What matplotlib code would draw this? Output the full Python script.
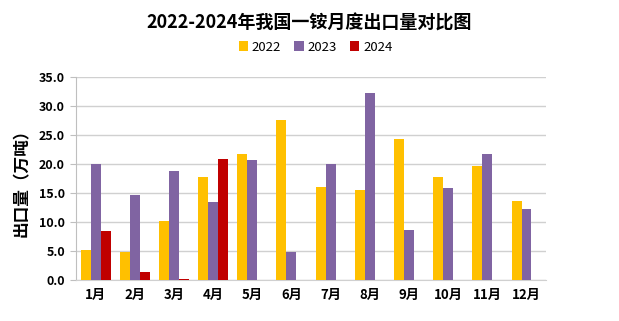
import matplotlib.pyplot as plt
import numpy as np

plt.rcParams['font.family'] = ['Noto Sans CJK SC', 'DejaVu Sans']

months = ['1月', '2月', '3月', '4月', '5月', '6月', '7月', '8月', '9月', '10月', '11月', '12月']
y2022 = [5.2, 4.8, 10.2, 17.8, 21.7, 27.6, 16.0, 15.5, 24.3, 17.8, 19.7, 13.6]
y2023 = [20.0, 14.7, 18.8, 13.4, 20.7, 4.8, 20.0, 32.2, 8.6, 15.9, 21.7, 12.2]
y2024 = [8.5, 1.4, 0.2, 20.9]

fig = plt.figure(figsize=(6.19, 3.21), dpi=100)
ax = fig.add_axes([0.1228, 0.1277, 0.7594, 0.6325])

x = np.arange(len(months))
w = 0.255
ax.bar(x - w, y2022, w, color='#FFC000', label='2022', zorder=3)
ax.bar(x, y2023, w, color='#8064A2', label='2023', zorder=3)
ax.bar(x[:len(y2024)] + w, y2024, w, color='#C00000', label='2024', zorder=3)

ax.set_xlim(-0.5, len(months) - 0.5)
ax.set_ylim(0, 35)
ax.set_yticks(np.arange(0, 35.1, 5))
ax.set_yticklabels([f'{v:.1f}' for v in np.arange(0, 35.1, 5)], fontweight='bold', fontsize=9)
ax.set_xticks(x)
ax.set_xticklabels(months, fontweight='bold', fontsize=9.5)
ax.tick_params(axis='x', length=0, pad=6)
ax.tick_params(axis='y', length=4, color='#BFBFBF', pad=4)
ax.grid(axis='y', color='#D0D0D0', linewidth=1, zorder=0)
for s in ['top', 'right']:
    ax.spines[s].set_visible(False)
ax.spines['left'].set_color('#BFBFBF')
ax.spines['bottom'].set_color('#D0D0D0')

ax.set_ylabel('出口量（万吨）', fontweight='bold', fontsize=12, labelpad=6)

fig.text(0.5, 0.928, '2022-2024年我国一铵月度出口量对比图', ha='center', va='center',
         fontsize=13, fontweight='bold')
fig.legend(loc='center', bbox_to_anchor=(0.51, 0.853), ncol=3, frameon=False,
           fontsize=9.5, handlelength=0.7, handleheight=0.7, handletextpad=0.3, columnspacing=1.0)

fig.savefig('out.png', dpi=100)
